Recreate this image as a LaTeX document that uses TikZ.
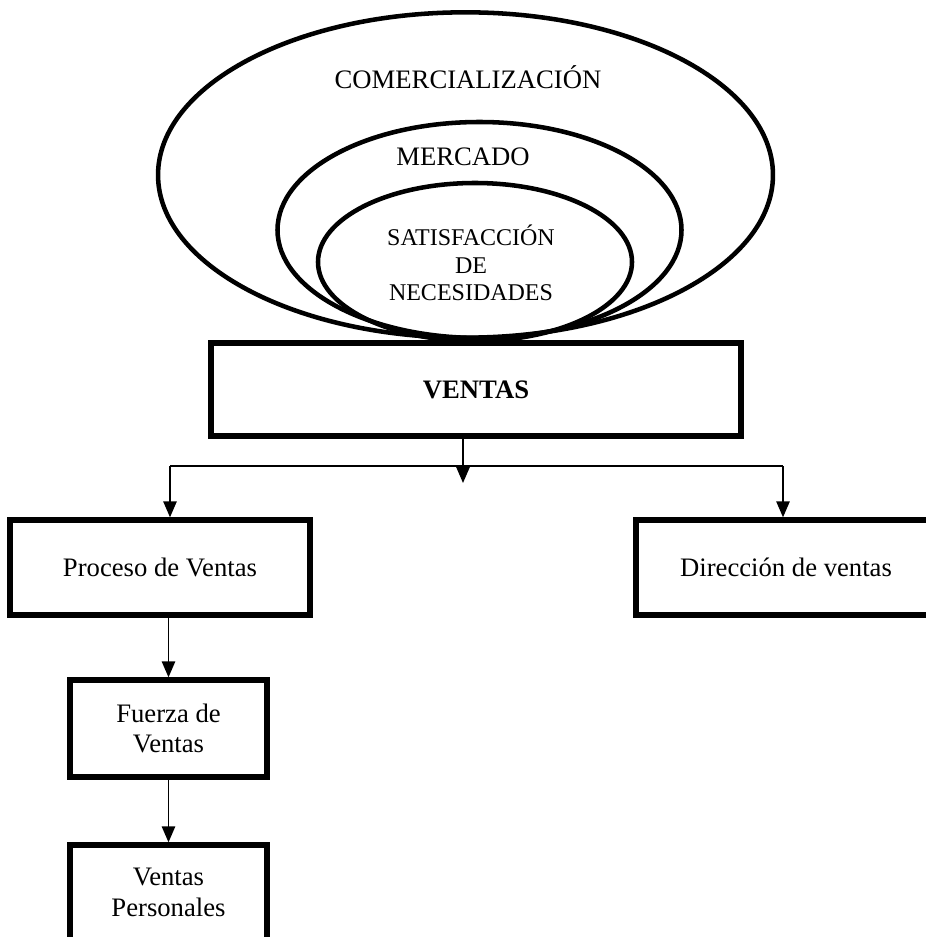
\documentclass[tikz,border=0pt]{standalone}
\usepackage{fontspec}
\setmainfont{Liberation Serif}
\usetikzlibrary{arrows.meta}
\begin{document}
\begin{tikzpicture}[x=0.75pt,y=-0.75pt,
  ring/.style={line width=3.4pt},
  boxnode/.style={draw,line width=4pt,align=center,font=\fontsize{20}{23}\selectfont,inner sep=0pt},
  lbl/.style={align=center,font=\fontsize{20}{23}\selectfont,inner sep=0pt},
  conn/.style={line width=1.3pt},
  arr/.style={line width=1.3pt,-{Triangle[width=10pt,length=12pt]}}]
\useasboundingbox (0,0) rectangle (925,937);
% ellipses
\draw[ring] (465.5,175) ellipse [x radius=230.6pt, y radius=122pt];
\draw[ring] (479.5,230) ellipse [x radius=151.5pt, y radius=81pt];
\draw[ring] (475,262) ellipse [x radius=117.75pt, y radius=59.25pt];
\node[lbl] (com) at (468,77) {COMERCIALIZACIÓN};
\node[lbl] (mer) at (463,157) {MERCADO};
\node[lbl,font=\fontsize{18}{20.6}\selectfont] (sat) at (471,263) {SATISFACCIÓN\\DE\\NECESIDADES};
% boxes
\node[boxnode,minimum width=397.5pt,minimum height=69.75pt,font=\fontsize{20}{23}\selectfont\bfseries] (ventas) at (476,389.5) {VENTAS};
\node[boxnode,minimum width=225pt,minimum height=71.25pt] (proceso) at (160,567.5) {Proceso de Ventas};
\node[boxnode,minimum width=225pt,minimum height=71.25pt] (direccion) at (786,567.5) {Dirección de ventas};
\node[boxnode,minimum width=147.75pt,minimum height=72.75pt] (fuerza) at (168.5,728.5) {Fuerza de\\Ventas};
\node[boxnode,minimum width=147.75pt,minimum height=71.25pt] (personales) at (168.5,892.5) {Ventas\\Personales};
% connectors
\coordinate (c) at (463,483);
\coordinate (hl) at (170,466);
\coordinate (hr) at (783,466);
\draw[arr] (ventas.south -| c) -- (c);
\draw[conn] (hl) -- (hr);
\draw[arr] (hl) -- (hl |- proceso.north);
\draw[arr] (hr) -- (hr |- direccion.north);
\draw[arr] (fuerza.north |- proceso.south) -- (fuerza.north);
\draw[arr] (fuerza.south) -- (personales.north);
\end{tikzpicture}
\end{document}
